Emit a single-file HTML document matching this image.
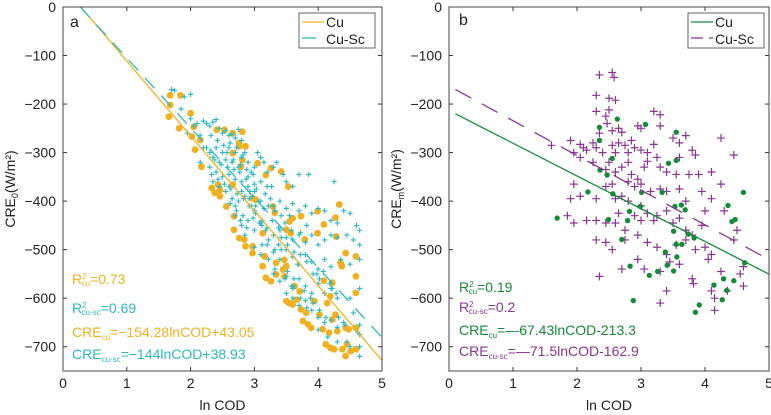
<!DOCTYPE html>
<html><head><meta charset="utf-8"><style>
html,body{margin:0;padding:0;background:#fff}
svg{display:block;font-family:"Liberation Sans",Arial,sans-serif}
</style></head><body>
<svg id="chart" width="771" height="415" viewBox="0 0 771 415"></svg>
<script>
const xTicks=[0,1,2,3,4,5];
const yTicks=[0,-100,-200,-300,-400,-500,-600,-700];
const aCuX=[1.68,1.84,1.68,1.66,1.82,2.0,2.05,2.02,2.15,2.07,2.17,2.33,2.38,2.46,2.43,2.56,2.53,2.66,2.76,2.76,2.66,2.81,2.79,2.68,2.68,2.84,2.86,2.97,3.02,3.05,3.18,3.26,3.42,3.53,3.13,3.16,3.13,3.18,3.26,3.34,3.47,3.50,3.47,3.50,3.55,3.60,3.63,3.57,3.55,3.73,3.79,3.71,3.73,3.81,3.76,3.84,3.89,4.02,4.07,4.14,4.19,4.22,4.09,3.99,3.99,4.09,4.27,4.28,4.33,4.35,4.37,4.43,4.59,4.59,4.59,4.27,4.22,4.17,4.30,4.43,4.48,4.59,4.12,4.19,4.25,4.38,4.45,4.51,4.59,4.43,2.66,2.46,2.81,2.86,2.41,2.97,3.29,3.32,3.50,3.60,2.76,2.97,3.34,3.45,3.66,3.94];
const aCuY=[-182,-182,-202,-226,-250,-219,-247,-267,-274,-294,-329,-373,-383,-390,-366,-411,-253,-260,-280,-287,-301,-315,-329,-431,-459,-479,-493,-493,-397,-322,-346,-332,-339,-370,-466,-514,-534,-558,-565,-527,-521,-534,-555,-606,-610,-613,-575,-466,-442,-431,-479,-586,-623,-630,-647,-654,-661,-634,-664,-610,-596,-568,-564,-466,-421,-448,-434,-473,-407,-527,-534,-507,-514,-555,-589,-634,-644,-671,-668,-661,-664,-661,-695,-702,-705,-705,-695,-709,-705,-719,-366,-377,-257,-287,-253,-394,-411,-424,-459,-435,-476,-507,-551,-541,-603,-606];
const aScX=[1.7,1.75,1.9,2.0,1.85,2.0,2.05,2.1,1.95,2.15,2.2,2.25,2.3,2.35,2.4,2.45,2.5,2.55,2.6,2.65,2.7,2.75,2.8,2.25,2.3,2.35,2.4,2.45,2.5,2.55,2.6,2.65,2.7,2.75,2.8,2.85,2.9,2.95,3.0,2.3,2.4,2.5,2.6,2.7,2.8,2.9,3.0,3.05,3.1,3.15,3.2,3.3,3.35,3.45,3.5,3.6,3.7,3.85,4.25,2.55,2.65,2.7,2.75,2.85,2.95,3.0,3.1,3.15,3.25,3.3,3.4,3.5,3.55,3.6,3.7,3.8,3.9,4.0,4.1,4.2,4.3,4.4,4.5,4.6,4.65,2.7,2.8,2.9,3.0,3.1,3.2,3.3,3.4,3.5,3.6,3.7,3.8,3.9,4.0,4.1,4.2,4.3,4.45,4.55,4.65,2.85,3.0,3.1,3.2,3.3,3.4,3.5,3.6,3.7,3.8,3.9,4.0,4.1,4.2,4.35,4.5,4.65,3.3,3.4,3.5,3.6,3.7,3.8,3.9,4.0,4.1,4.2,4.3,4.5,4.65,3.5,3.6,3.7,3.8,3.9,4.0,4.1,4.2,4.3,4.4,4.55,4.65,4.0,4.15,4.3,4.45,4.65,4.65,4.65,4.5,2.2,2.15,2.35,2.45,2.6,2.8,2.9,3.0,3.1,3.2,
2.32,2.42,2.52,2.62,2.72,2.82,2.38,2.48,2.58,2.68,2.78,2.88,2.98,2.33,2.43,2.53,2.63,2.73,2.83,2.93,3.03,2.57,2.67,2.77,2.87,2.97,3.07,3.17,3.27,2.62,2.72,2.82,2.92,3.02,3.12,3.22,3.32,3.42,2.78,2.88,2.98,3.08,3.18,3.28,3.38,3.48,3.58,2.92,3.02,3.12,3.22,3.32,3.42,3.52,3.62,3.72,3.82,3.12,3.22,3.32,3.42,3.52,3.62,3.72,3.82,3.92,4.02,3.38,3.48,3.58,3.68,3.78,3.88,3.98,4.08,4.18,4.28,3.62,3.72,3.82,3.92,4.02,4.12,4.22,4.32,4.42,4.62];
const aScY=[-170,-172,-185,-180,-210,-230,-245,-240,-260,-265,-235,-240,-245,-237,-232,-250,-260,-255,-265,-262,-270,-252,-275,-290,-300,-310,-290,-320,-300,-315,-290,-320,-300,-330,-310,-300,-320,-340,-330,-330,-340,-350,-345,-355,-360,-350,-365,-300,-310,-320,-340,-330,-320,-345,-360,-370,-345,-345,-360,-380,-395,-410,-400,-390,-410,-420,-400,-415,-395,-410,-400,-415,-430,-405,-420,-410,-425,-415,-420,-440,-445,-420,-425,-450,-460,-430,-450,-440,-460,-445,-455,-470,-460,-475,-480,-470,-485,-470,-490,-480,-470,-475,-470,-480,-490,-470,-495,-510,-490,-505,-520,-500,-515,-530,-510,-525,-540,-520,-535,-520,-530,-520,-550,-565,-555,-580,-560,-575,-590,-570,-590,-580,-600,-600,-580,-590,-600,-615,-605,-625,-640,-650,-645,-660,-650,-630,-655,-665,-680,-690,-690,-675,-700,-720,-700,-290,-320,-360,-370,-370,-380,-370,-380,-360,-370,
-265,-275,-285,-280,-290,-305,-315,-325,-330,-335,-325,-335,-345,-345,-355,-365,-375,-385,-395,-380,-375,-300,-315,-340,-355,-390,-400,-385,-370,-405,-420,-430,-410,-425,-440,-410,-420,-430,-440,-455,-435,-445,-460,-440,-455,-445,-460,-395,-410,-450,-480,-500,-475,-490,-505,-465,-450,-490,-520,-540,-500,-545,-560,-510,-525,-550,-560,-490,-560,-575,-530,-585,-600,-550,-545,-570,-590,-575,-600,-620,-610,-625,-640,-580,-640,-655,-670,-660,-680,-690];
const bCuX=[1.69,2.17,2.35,2.35,2.36,2.47,2.55,2.63,2.49,2.56,2.7,2.79,2.82,2.83,2.88,3.07,3.01,2.99,3.13,3.26,3.33,3.38,3.41,3.43,3.51,3.51,3.53,3.55,3.55,3.55,3.56,3.63,3.64,3.69,3.74,3.83,3.85,3.91,4.14,4.29,4.27,4.34,4.36,4.42,4.47,4.45,4.6,4.62];
const bCuY=[-435,-381,-248,-275,-336,-346,-312,-231,-438,-385,-479,-440,-421,-534,-605,-242,-382,-411,-553,-545,-382,-505,-532,-322,-544,-462,-411,-258,-316,-489,-515,-408,-489,-418,-468,-476,-629,-614,-573,-560,-603,-584,-409,-442,-438,-564,-382,-527];
const bScX=[2.35,2.55,2.58,2.3,2.5,2.6,2.3,2.45,2.5,2.47,2.55,2.35,2.65,2.7,1.6,1.9,2.05,2.1,2.15,2.25,2.3,2.4,2.55,2.6,2.65,2.75,2.8,2.85,2.9,3.0,3.1,3.2,3.3,3.2,3.3,2.95,3.0,1.95,2.05,2.25,2.45,2.5,2.6,2.7,2.8,2.85,2.95,3.05,3.1,3.25,3.3,3.4,3.5,3.6,3.7,3.8,3.85,3.6,3.75,3.9,4.1,4.25,4.25,4.45,1.95,2.05,1.9,2.3,2.45,2.55,2.6,2.7,2.8,2.9,3.0,3.15,3.3,3.4,3.55,3.6,3.7,3.95,4.0,4.1,4.3,1.85,1.95,2.15,2.3,2.45,2.6,2.75,2.9,3.0,3.1,3.25,3.4,3.5,3.6,3.7,3.8,3.95,4.45,4.5,2.3,2.45,2.55,2.75,2.95,3.1,3.25,3.4,3.55,3.7,3.85,4.0,4.05,4.1,2.35,2.7,2.95,3.05,3.3,3.45,3.6,3.8,3.82,4.1,4.15,4.15,4.25,4.35,4.55,4.6,4.6,3.3,3.4,2.8,3.0,3.2,2.65];
const bScY=[-140,-135,-145,-182,-188,-192,-215,-225,-212,-240,-255,-260,-250,-258,-285,-275,-283,-290,-295,-280,-290,-300,-285,-300,-280,-285,-300,-275,-290,-295,-300,-283,-222,-215,-245,-245,-250,-300,-310,-320,-335,-320,-340,-330,-320,-345,-355,-330,-318,-310,-330,-340,-270,-280,-265,-295,-305,-310,-345,-345,-340,-365,-270,-305,-365,-390,-395,-395,-370,-365,-395,-390,-360,-370,-365,-380,-375,-380,-345,-375,-400,-380,-420,-395,-420,-430,-445,-440,-440,-445,-445,-460,-430,-440,-425,-430,-420,-445,-435,-460,-470,-450,-480,-460,-480,-485,-500,-480,-470,-485,-495,-510,-490,-480,-500,-495,-520,-510,-555,-540,-520,-540,-545,-525,-530,-560,-570,-585,-600,-625,-545,-585,-550,-575,-535,-610,-585,-400,-410,-440,-425];
const aFitX=[0.28,5]; const aCuSlope=-154.28, aCuInt=43.05;
const aScFitX=[0.27,5]; const aScSlope=-144, aScInt=38.93;
const bFitX=[0.1,5]; const bCuSlope=-67.43, bCuInt=-213.3;
const bScFitX=[0.1,4.9]; const bScSlope=-71.5, bScInt=-162.9;

const NS="http://www.w3.org/2000/svg";
const svg=document.getElementById('chart');
function el(tag,attrs,parent){const e=document.createElementNS(NS,tag);for(const k in attrs)e.setAttribute(k,attrs[k]);(parent||svg).appendChild(e);return e;}
const TOP=7,BOT=371;
function panel(L,R,name){
  const g=el('g',{});
  
  
  const sx=v=>L+(R-L)*v/5;
  const sy=v=>TOP+(BOT-TOP)*(-v)/750;
  return {g,sx,sy,L,R};
}
function axes(p,ylabelSub){
  const {g,sx,sy,L,R}=p;
  const ax=el('g',{},g);
  
  
  xTicks.forEach(t=>{
    el('line',{x1:sx(t),x2:sx(t),y1:BOT,y2:BOT-4,stroke:'#333','stroke-width':1},ax);
    el('line',{x1:sx(t),x2:sx(t),y1:TOP,y2:TOP+4,stroke:'#333','stroke-width':1},ax);
    const tx=el('text',{x:sx(t),y:BOT+17,'text-anchor':'middle','font-size':14,fill:'#222'},ax);
    tx.textContent=t;
    
    
  });
  yTicks.forEach(t=>{
    el('line',{x1:L,x2:L+4,y1:sy(t),y2:sy(t),stroke:'#333','stroke-width':1},ax);
    el('line',{x1:R,x2:R-4,y1:sy(t),y2:sy(t),stroke:'#333','stroke-width':1},ax);
    const tx=el('text',{x:L-7,y:sy(t)+5,'text-anchor':'end','font-size':14,fill:'#222'},ax);
    tx.textContent=t===0?'0':'\u2212'+(-t);
    
    
  });
  el('rect',{x:L,y:TOP,width:R-L,height:BOT-TOP,fill:'none',stroke:'#444','stroke-width':1},ax);
  const xl=el('text',{x:(L+R)/2,y:410,'text-anchor':'middle','font-size':14,fill:'#222'},g);
  xl.textContent='ln COD';
  
  
  const yl=el('text',{transform:`translate(${L-48},${(TOP+BOT)/2}) rotate(-90)`,'text-anchor':'middle','font-size':14,fill:'#222'},g);
  yl.innerHTML=`CRE<tspan font-size="9" dy="3">${ylabelSub}</tspan><tspan dy="-3">(W/m²)</tspan>`;
  
  
}
function circles(p,xs,ys,r,color,name){
  xs.forEach((x,i)=>{
    const c=el('circle',{cx:p.sx(x),cy:p.sy(ys[i]),r:r,fill:color},p.g);
    
    
  });
}
function pluses(p,xs,ys,h,color,w,name){
  xs.forEach((x,i)=>{
    const X=p.sx(x),Y=p.sy(ys[i]);
    const m=el('path',{d:`M${X-h},${Y}H${X+h}M${X},${Y-h}V${Y+h}`,stroke:color,'stroke-width':w,fill:'none'},p.g);
    
    
  });
}
function fit(p,xr,slope,inter,color,dash,name){
  const a={x1:p.sx(xr[0]),y1:p.sy(slope*xr[0]+inter),x2:p.sx(xr[1]),y2:p.sy(slope*xr[1]+inter),stroke:color,'stroke-width':1.3};
  if(dash)a['stroke-dasharray']=dash;
  const l=el('line',a,p.g);
  
  
}
function legend(p,x,c1,c2,dash){
  const lg=el('g',{},p.g);
  
  
  el('rect',{x:x,y:13,width:76,height:35,fill:'#fff',stroke:'#666','stroke-width':1},lg);
  el('line',{x1:x+3,x2:x+25,y1:22,y2:22,stroke:c1,'stroke-width':1.3},lg);
  const d2={x1:x+3,x2:x+25,y1:38,y2:38,stroke:c2,'stroke-width':1.3};
  if(dash)d2['stroke-dasharray']=dash;
  el('line',d2,lg);
  const t1=el('text',{x:x+27,y:27,'font-size':14,fill:'#222'},lg);t1.textContent='Cu';
  
  
  const t2=el('text',{x:x+27,y:44,'font-size':14,fill:'#222'},lg);t2.textContent='Cu-Sc';
  
  
}
function ann(p,x,y,color,html,name){
  const t=el('text',{x:x,y:y,'font-size':14,fill:color},p.g);
  t.innerHTML=html;
  
  
}
const OR='#f0b020',TE='#2bb8c0',GR='#178a3a',PU='#8a3592';
// Panel a
const pa=panel(63,382,'panel-a');
circles(pa,aCuX,aCuY,3.4,OR,'cu-point');
pluses(pa,aScX,aScY,2.6,TE,1.1,'cu-sc-point');
fit(pa,aFitX,aCuSlope,aCuInt,OR,null,'cu-fit-line');
fit(pa,aScFitX,aScSlope,aScInt,TE,'14,10','cu-sc-fit-line');
axes(pa,'0');
legend(pa,299,OR,TE,'14,10');
const la=el('text',{x:70,y:27,'font-size':16,fill:'#222'},pa.g);la.textContent='a';


const S='font-size="8"';
ann(pa,72,284,OR,`R<tspan ${S} dy="-5">2</tspan><tspan ${S} dy="7" dx="-5">cu</tspan><tspan dy="-2">=0.73</tspan>`,'r2-cu');
ann(pa,72,313,TE,`R<tspan ${S} dy="-5">2</tspan><tspan ${S} dy="7" dx="-5">cu-sc</tspan><tspan dy="-2">=0.69</tspan>`,'r2-cu-sc');
ann(pa,72,337,OR,`CRE<tspan ${S} dy="3">cu</tspan><tspan dy="-3">=\u2212154.28lnCOD+43.05</tspan>`,'eq-cu');
ann(pa,72,359,TE,`CRE<tspan ${S} dy="3">cu-sc</tspan><tspan dy="-3">=\u2212144lnCOD+38.93</tspan>`,'eq-cu-sc');
// Panel b
const pb=panel(449,769,'panel-b');
pluses(pb,bScX,bScY,4,PU,1.2,'cu-sc-point');
circles(pb,bCuX,bCuY,2.7,GR,'cu-point');
fit(pb,bFitX,bCuSlope,bCuInt,GR,null,'cu-fit-line');
fit(pb,bScFitX,bScSlope,bScInt,PU,'18,12','cu-sc-fit-line');
axes(pb,'m');
legend(pb,688,GR,PU,'12,6');
const lb=el('text',{x:459,y:25,'font-size':16,fill:'#222'},pb.g);lb.textContent='b';


ann(pb,459,292,GR,`R<tspan ${S} dy="-5">2</tspan><tspan ${S} dy="7" dx="-5">cu</tspan><tspan dy="-2">=0.19</tspan>`,'r2-cu');
ann(pb,459,312,PU,`R<tspan ${S} dy="-5">2</tspan><tspan ${S} dy="7" dx="-5">cu-sc</tspan><tspan dy="-2">=0.2</tspan>`,'r2-cu-sc');
ann(pb,459,335,GR,`CRE<tspan ${S} dy="3">cu</tspan><tspan dy="-3">=\u201467.43lnCOD-213.3</tspan>`,'eq-cu');
ann(pb,459,356,PU,`CRE<tspan ${S} dy="3">cu-sc</tspan><tspan dy="-3">=\u201471.5lnCOD-162.9</tspan>`,'eq-cu-sc');
</script>
</body></html>
